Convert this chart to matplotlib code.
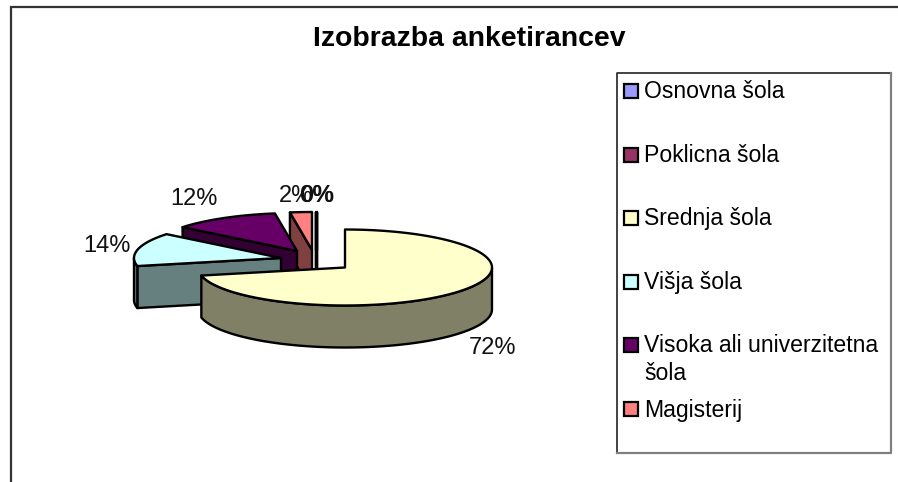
import numpy as np
import matplotlib
matplotlib.use("Agg")
import matplotlib.pyplot as plt
from matplotlib.patches import Polygon, Rectangle

# ---- data ----
title = "Izobrazba anketirancev"
categories = ["Osnovna šola", "Poklicna šola", "Srednja šola", "Višja šola",
              "Visoka ali univerzitetna\nšola", "Magisterij"]
shares = [0.0, 0.0, 71.6, 14.2, 11.8, 2.4]

# ---- styles ----
top_colors = ["#9999FF", "#993366", "#FFFFCC", "#CCFFFF", "#660066", "#FF8080"]
side_colors = ["#4C4C80", "#4C1933", "#808066", "#668080", "#330033", "#804040"]
# apex of every exploded slice, in pixels
apex_x = [317.3, 315.5, 345, 281, 297, 312]
apex_y = [250, 250, 267.5, 258, 251, 250]
RX, RY, DEPTH = 147, 38, 42
draw_order = [0, 1, 5, 4, 3, 2]
LW = 1.7

plt.rcParams["font.family"] = ["Liberation Sans", "DejaVu Sans"]
W, H = 898, 482
fig = plt.figure(figsize=(W / 100, H / 100), dpi=100)
ax = fig.add_axes([0, 0, 1, 1])
ax.set_xlim(0, W)
ax.set_ylim(H, 0)
ax.axis("off")

ax.plot([10.5, 10.5, W], [H, 6.5, 6.5], color="#333333", lw=1.6, solid_joinstyle="miter")
ax.text(469, 39, title, ha="center", va="center", fontsize=20.4, fontweight="bold", color="black")

# slice angles, clockwise from the top
edges = np.concatenate([[0], np.cumsum(shares)]) / sum(shares) * 2 * np.pi


def rim(i, t):
    return apex_x[i] + RX * np.sin(t), apex_y[i] - RY * np.cos(t)


def poly(xs, ys, color, z):
    ax.add_patch(Polygon(np.column_stack([xs, ys]), closed=True, facecolor=color,
                         edgecolor="black", lw=LW, joinstyle="round", zorder=z))


for z, i in enumerate(draw_order):
    t0, t1 = edges[i], edges[i + 1]
    ts = np.linspace(t0, t1, 120)
    rx, ry = rim(i, ts)
    ax_, ay_ = apex_x[i], apex_y[i]
    zz = 3 + z
    # the cut face that looks towards the viewer (the large slice shows none)
    if i != 2:
        ex, ey = rim(i, t0)
        poly([ex, ax_, ax_, ex], [ey, ay_, ay_ + DEPTH, ey + DEPTH], side_colors[i], zz)
    # outer wall: the part of the rim that faces the viewer
    mask = np.cos(ts) <= 0
    if mask.any():
        wx, wy = rx[mask], ry[mask]
        poly(np.r_[wx, wx[::-1]], np.r_[wy, wy[::-1] + DEPTH], side_colors[i], zz)
    # top face
    poly(np.r_[ax_, rx], np.r_[ay_, ry], top_colors[i], zz)

# percentage labels, from the shares
label_x = [317, 316, 492, 107, 194, 296]
label_y = [196, 196, 348, 246, 199, 196]
for i, s in enumerate(shares):
    ax.text(label_x[i], label_y[i], f"{round(s)}%", ha="center", va="center",
            fontsize=17, color="#111111", zorder=20)

# legend
ax.add_patch(Rectangle((616.5, 72.5), 274, 380.5, facecolor="white", edgecolor="none", zorder=1))
ax.plot([616.5, 616.5, 890.5], [453, 72.5, 72.5], color="#222222", lw=1.2, zorder=2)
ax.plot([616.5, 890.5, 890.5], [453, 453, 72.5], color="#808080", lw=1.6, zorder=2)
legend_y = [91, 155, 218, 282, 345, 409]
for i, name in enumerate(categories):
    ax.add_patch(Rectangle((623.5, legend_y[i] - 7.5), 14, 14, facecolor=top_colors[i],
                           edgecolor="black", lw=1.6, zorder=3))
    wrapped = "\n" in name
    ax.text(644, legend_y[i] - 11 if wrapped else legend_y[i] + 1, name, ha="left",
            va="top" if wrapped else "center", fontsize=16.6, color="black",
            linespacing=1.25, zorder=3)

fig.savefig("out.png", dpi=100)
